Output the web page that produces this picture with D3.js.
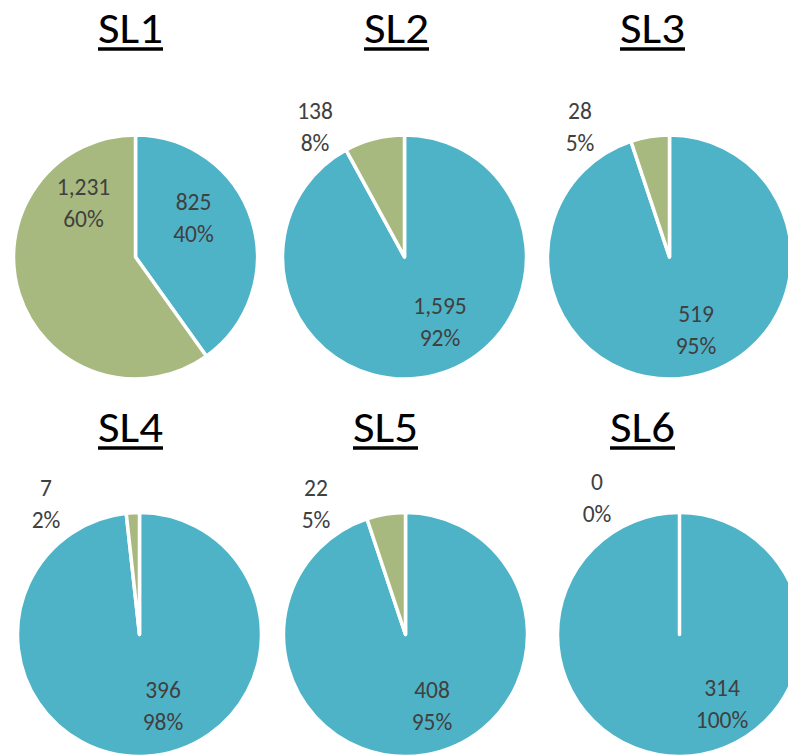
<!DOCTYPE html>
<meta charset="utf-8">
<head>
    <title>SL pies</title>
    <script src="https://d3js.org/d3.v7.min.js"></script>
    <style>
        body { margin: 0; background: #ffffff; overflow: hidden; }
        text { font-family: Carlito, Calibri, Lato, sans-serif; }
    </style>
</head>
<body>
<div id="my_dataviz"></div>
<script>

// data
var titles = ["SL1", "SL2", "SL3", "SL4", "SL5", "SL6"];
var blueValues = [825, 1595, 519, 396, 408, 314];
var greenValues = [1231, 138, 28, 7, 22, 0];
var bluePct = ["40%", "92%", "95%", "98%", "95%", "100%"];
var greenPct = ["60%", "8%", "5%", "2%", "5%", "0%"];

// layout (pie centres, title centres, label offsets from the pie centre)
var pieCenters = [[135.5, 257], [404.5, 257], [669.5, 257], [139.5, 634.5], [405.5, 634.5], [679.5, 634.5]];
var titleCenters = [[130.5, 43], [396.5, 43], [652.5, 43], [130.5, 442], [385.5, 442], [642.5, 442]];
var blueLabelOff = [[58, -40], [35.5, 64], [26.5, 72], [23.5, 70.5], [26.5, 70.5], [42.5, 68.5]];
var greenLabelOff = [[-52, -55], [-89.5, -131], [-89.5, -131], [-93.5, -131.5], [-89.5, -131.5], [-82.5, -137.5]];

var width = 788, height = 755, radius = 122;
var colors = ["#4fb3c8", "#a8b97f"];

var svg = d3.select("#my_dataviz")
    .append("svg")
    .attr("width", width)
    .attr("height", height);

var pie = d3.pie().sort(null).value(function(d) { return d; });
var arc = d3.arc().innerRadius(0).outerRadius(radius);

titles.forEach(function(t, i) {

    // title with underline
    var tx = titleCenters[i][0], ty = titleCenters[i][1];
    svg.append("text")
        .attr("x", tx).attr("y", ty)
        .attr("text-anchor", "middle")
        .attr("textLength", 65)
        .attr("lengthAdjust", "spacingAndGlyphs")
        .style("font-size", "44px")
        .style("fill", "#000")
        .text(t);
    svg.append("line")
        .attr("x1", tx - 32.5).attr("x2", tx + 32.5)
        .attr("y1", ty + 6).attr("y2", ty + 6)
        .attr("stroke", "#000")
        .attr("stroke-width", 3.5);

    // pie
    var g = svg.append("g")
        .attr("transform", "translate(" + pieCenters[i][0] + "," + pieCenters[i][1] + ")");
    g.selectAll("path")
        .data(pie([blueValues[i], greenValues[i]]))
        .enter()
        .append("path")
        .attr("d", arc)
        .attr("fill", function(d, j) { return colors[j]; })
        .attr("stroke", "#ffffff")
        .attr("stroke-width", 3.5)
        .attr("stroke-linejoin", "round");

    // data labels
    var labels = [
        [d3.format(",")(blueValues[i]), bluePct[i], blueLabelOff[i]],
        [d3.format(",")(greenValues[i]), greenPct[i], greenLabelOff[i]]
    ];
    labels.forEach(function(l) {
        var txt = g.append("text")
            .attr("text-anchor", "middle")
            .style("font-size", "23.5px")
            .style("fill", "#404040");
        txt.append("tspan")
            .attr("x", l[2][0]).attr("y", l[2][1] - 7.5)
            .text(l[0]);
        txt.append("tspan")
            .attr("x", l[2][0]).attr("y", l[2][1] + 24.5)
            .text(l[1]);
    });
});

</script>
</body>
</html>
